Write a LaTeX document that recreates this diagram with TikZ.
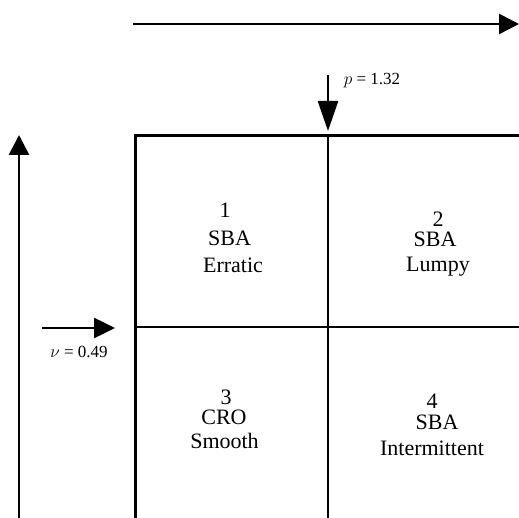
\documentclass[tikz,border=0pt]{standalone}
\usepackage{fontspec}
\setmainfont{Liberation Serif}
\usetikzlibrary{arrows.meta}
\begin{document}
\begin{tikzpicture}[x=1pt,y=-1pt,
  grid/.style={line width=2.6pt},
  axis/.style={line width=2.6pt,-{Triangle[length=20pt,width=20pt]}},
  cell/.style={anchor=base,inner sep=0pt,text depth=0pt,font=\fontsize{22}{26}\selectfont},
  lab/.style={anchor=base,inner sep=0pt,font=\fontsize{17}{20}\selectfont}]
\useasboundingbox (0,0) rectangle (519,518);
% grid
\coordinate (tl) at (135.5,135.5);
\coordinate (tr) at (519,135.5);
\coordinate (ml) at (135.5,327);
\coordinate (mr) at (519,327);
\coordinate (bl) at (135.5,518);
\coordinate (tm) at (328,135.5);
\coordinate (bm) at (328,518);
\draw[grid] (bl) -- (tl) -- (tr);
\draw[grid] (ml) -- (mr);
\draw[grid] (tm) -- (bm);
% arrows
\coordinate (ta) at (133,24);
\coordinate (tb) at (519,24);
\draw[axis] (ta) -- (tb);
\coordinate (da) at (328,75);
\coordinate (db) at (328,131);
\draw[line width=2.6pt,-{Triangle[length=30pt,width=20pt]}] (da) -- (db);
\coordinate (la) at (19,518);
\coordinate (lb) at (19,135);
\draw[axis] (la) -- (lb);
\coordinate (ha) at (42,328);
\coordinate (hb) at (115,328);
\draw[line width=2.6pt,-{Triangle[length=21pt,width=20pt]}] (ha) -- (hb);
\node[lab] (p) at (372,85) {$p$ = 1.32};
\node[lab] (v) at (79,357) {$\nu$ = 0.49};
% cell 1
\node[cell] (c1a) at (225,218) {1};
\node[cell] (c1b) at (229.5,246) {SBA};
\node[cell] (c1c) at (233,273) {Erratic};
% cell 2
\node[cell] (c2a) at (438,227) {2};
\node[cell] (c2b) at (435,247) {SBA};
\node[cell] (c2c) at (438,272) {Lumpy};
% cell 3
\node[cell] (c3a) at (226,404) {3};
\node[cell] (c3b) at (224,424) {CRO};
\node[cell] (c3c) at (224.5,448) {Smooth};
% cell 4
\node[cell] (c4a) at (432,408) {4};
\node[cell] (c4b) at (437,429) {SBA};
\node[cell] (c4c) at (432,455) {Intermittent};
\end{tikzpicture}
\end{document}
